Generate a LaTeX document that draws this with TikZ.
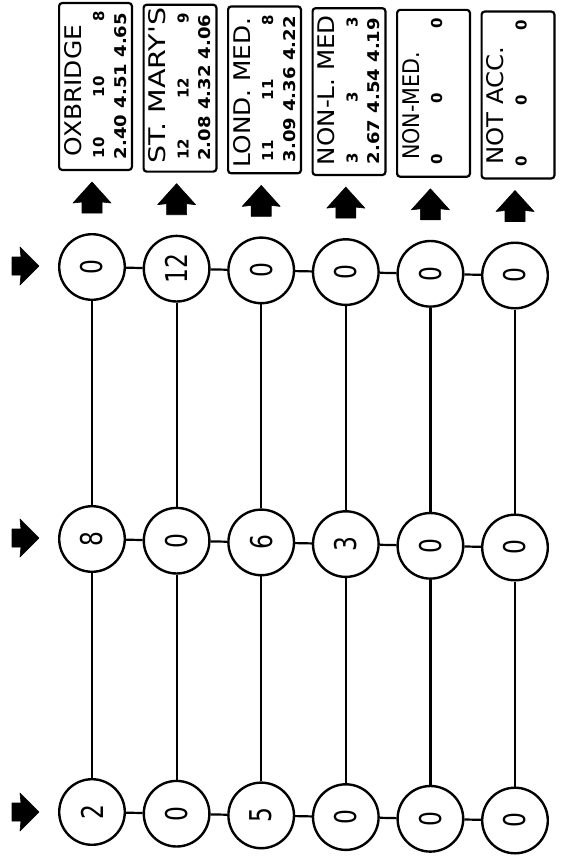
\documentclass[tikz,border=0pt]{standalone}
\usepackage{fontspec}
\usepackage{graphicx}
\newfontfamily\plotfont{DejaVu Sans}
\newcommand{\cdig}[1]{\rotatebox{90}{\scalebox{0.78}[1]{\fontsize{30}{30}\selectfont\plotfont #1}}}
\newcommand{\cntfont}{\fontsize{15}{16}\selectfont\plotfont\bfseries}
\newcommand{\infobox}[8]{%
  \pgfmathsetmacro\bl{58+84.5*(#1-1)}%
  \pgfmathsetmacro\dy{1.7*(#1-1)}%
  \node[infobx,anchor=north west] (box#1) at (\bl+1.1,3.1+\dy) {};
  \node[lab] (ttl#1) at (\bl+23,#3+\dy) {\resizebox{#4pt}{17pt}{\plotfont #2}};
  \node[lab] (cnta#1) at (\bl+46,158+\dy) {\cntfont #5};
  \node[lab] (cntb#1) at (\bl+46,97+\dy) {\cntfont #6};
  \node[lab] (cntc#1) at (\bl+46,22+\dy) {\cntfont #7};
}
\newcommand{\numline}[2]{%
  \pgfmathsetmacro\bl{58+84.5*(#1-1)}%
  \pgfmathsetmacro\dy{1.7*(#1-1)}%
  \node[lab] (num#1) at (\bl+68,159+\dy) {\resizebox{146pt}{12pt}{\plotfont\bfseries #2}};
}
\begin{document}
\begin{tikzpicture}[x=1pt,y=-1pt,
  stage/.style={circle,draw,line width=2.4pt,minimum size=65.6pt,inner sep=0pt},
  lab/.style={rotate=90,anchor=base west,inner sep=0pt,outer sep=0pt},
  conn/.style={line width=2.2pt},
  arr/.style={fill=black,draw=black,line width=0.6pt,line join=round},
  infobx/.style={draw,line width=2.2pt,rounded corners=3pt,minimum width=72.8pt,minimum height=166.8pt,inner sep=0pt,outer sep=0pt}]
\useasboundingbox (0,0) rectangle (565,859);

% information boxes
\infobox{1}{OXBRIDGE}{156}{131}{10}{10}{8}{}
\infobox{2}{ST. MARY'S}{162}{156}{12}{12}{9}{}
\infobox{3}{LOND. MED.}{164}{150}{11}{11}{8}{}
\infobox{4}{NON-L. MED}{160}{150}{3}{3}{3}{}
\infobox{5}{NON-MED.}{153}{108}{0}{0}{0}{}
\infobox{6}{NOT ACC.}{156}{118}{0}{0}{0}{}
\numline{1}{2.40 4.51 4.65}
\numline{2}{2.08 4.32 4.06}
\numline{3}{3.09 4.36 4.22}
\numline{4}{2.67 4.54 4.19}

% stage circles
\foreach \k/\a/\b/\c in {1/0/8/2, 2/12/0/0, 3/0/6/5, 4/0/3/0, 5/0/0/0, 6/0/0/0} {
  \pgfmathsetmacro\xx{92+84.6*(\k-1)}
  \pgfmathsetmacro\dy{1.7*(\k-1)}
  \node[stage] (a\k) at (\xx,267+\dy) {\cdig{\a}};
  \node[stage] (b\k) at (\xx,539+\dy) {\cdig{\b}};
  \node[stage] (c\k) at (\xx,812+\dy) {\cdig{\c}};
  \draw[conn] (a\k) -- (b\k);
  \draw[conn] (b\k) -- (c\k);
  % up arrow
  \fill[arr] (\xx,182+\dy) -- (\xx+19,203+\dy) -- (\xx+10,202+\dy) -- (\xx+10,213+\dy)
     -- (\xx-10,213+\dy) -- (\xx-10,202+\dy) -- (\xx-19,203+\dy) -- cycle;
}
\foreach \k [evaluate=\k as \n using int(\k+1)] in {1,...,5} {
  \draw[conn] (a\k) -- (a\n);
  \draw[conn] (b\k) -- (b\n);
  \draw[conn] (c\k) -- (c\n);
}
% right arrows
\foreach \y in {266,538,812} {
  \fill[arr] (39,\y) -- (20,\y-19) -- (21,\y-9) -- (12,\y-9) -- (12,\y+9) -- (21,\y+9) -- (20,\y+19) -- cycle;
}
\end{tikzpicture}
\end{document}
